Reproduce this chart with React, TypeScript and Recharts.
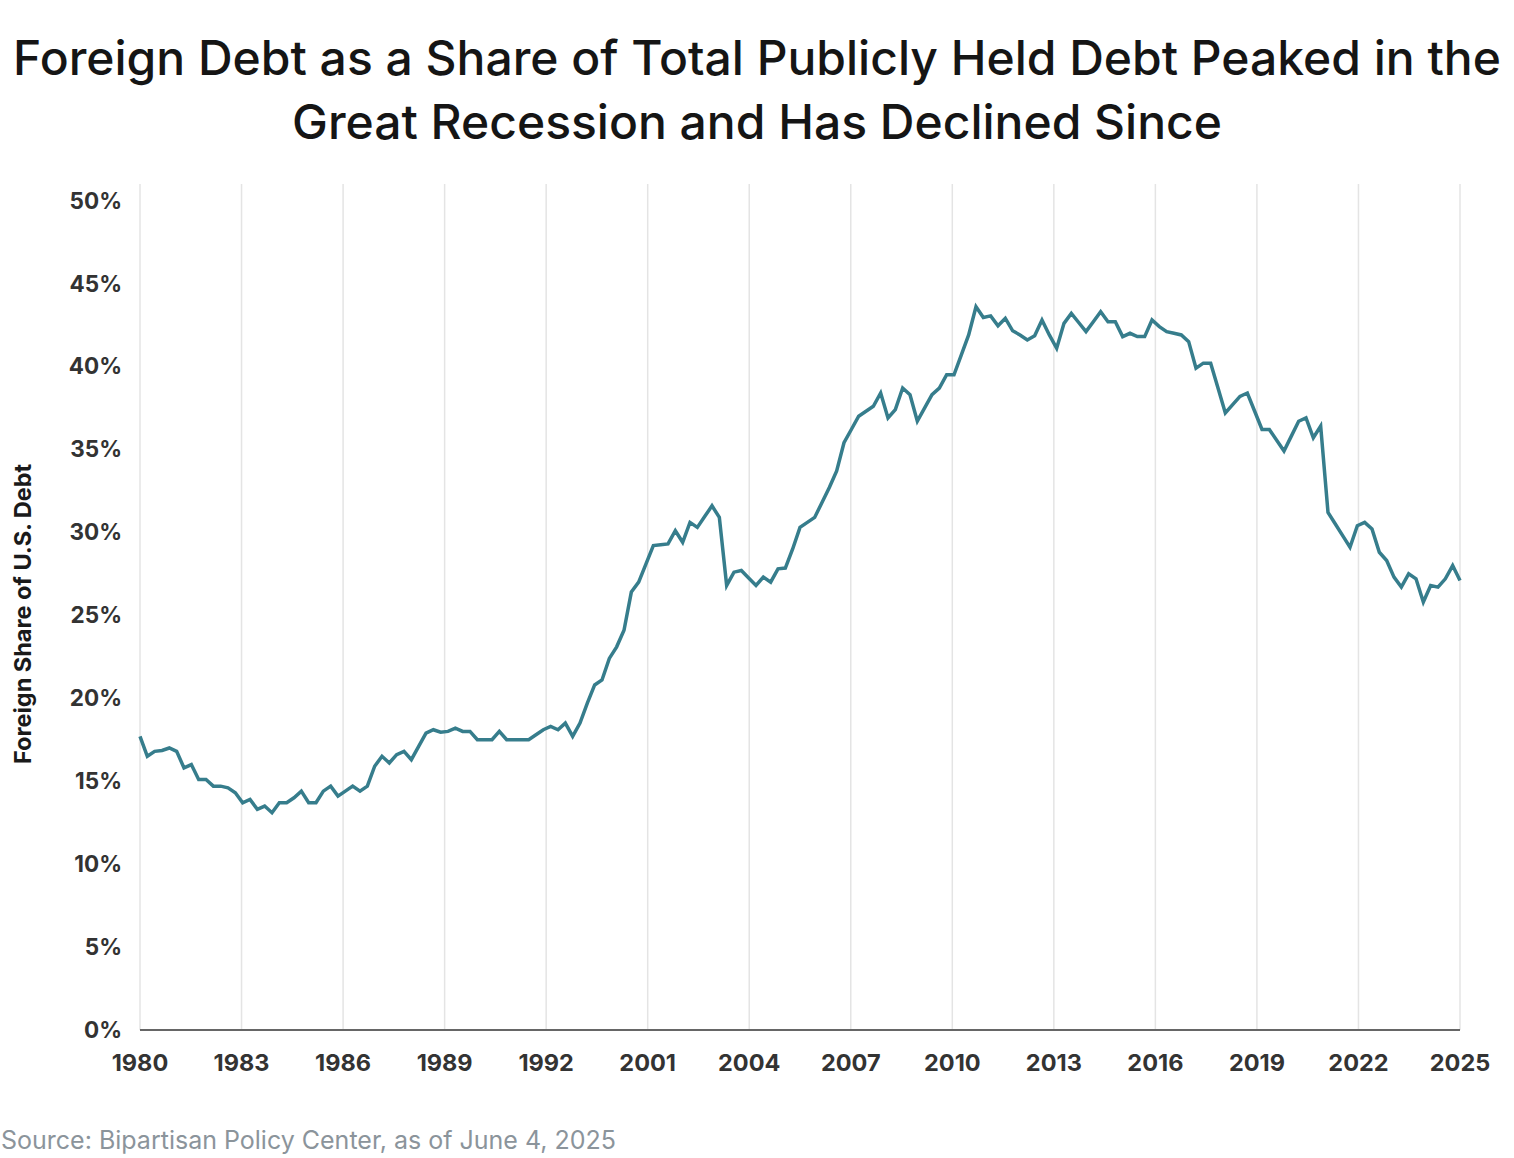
import React from 'react';
import { LineChart, Line, XAxis, YAxis, CartesianGrid } from 'recharts';

// quarterly foreign share of publicly held debt, 1980 Q1 .. 2025 Q1 (181 points)
const foreignShare = [
  17.7, 16.5, 16.8, 16.85, 17.0, 16.8, 15.8, 16.0, 15.1, 15.1,
  14.7, 14.7, 14.6, 14.3, 13.7, 13.9, 13.3, 13.5, 13.1, 13.7,
  13.7, 14.0, 14.4, 13.7, 13.7, 14.4, 14.7, 14.1, 14.4, 14.7,
  14.4, 14.7, 15.9, 16.5, 16.1, 16.6, 16.8, 16.3, 17.1, 17.9,
  18.1, 17.95, 18.0, 18.2, 18.0, 18.0, 17.5, 17.5, 17.5, 18.0,
  17.5, 17.5, 17.5, 17.5, 17.8, 18.1, 18.3, 18.1, 18.5, 17.7,
  18.5, 19.7, 20.8, 21.1, 22.4, 23.1, 24.1, 26.4, 27.0, 28.1,
  29.2, 29.25, 29.3, 30.1, 29.4, 30.6, 30.3, 30.95, 31.6, 30.9,
  26.8, 27.6, 27.7, 27.25, 26.8, 27.3, 27.0, 27.8, 27.85, 29.0,
  30.3, 30.6, 30.9, 31.8, 32.7, 33.7, 35.4, 36.2, 37.0, 37.3,
  37.6, 38.4, 36.9, 37.4, 38.7, 38.3, 36.7, 37.5, 38.3, 38.7,
  39.5, 39.5, 40.7, 41.9, 43.6, 42.95, 43.05, 42.45, 42.9, 42.15,
  41.9, 41.6, 41.85, 42.8, 41.9, 41.1, 42.6, 43.2, 42.65, 42.1,
  42.7, 43.3, 42.7, 42.7, 41.8, 42.0, 41.8, 41.8, 42.8, 42.4,
  42.1, 42.0, 41.9, 41.5, 39.9, 40.2, 40.2, 38.7, 37.2, 37.7,
  38.2, 38.4, 37.3, 36.2, 36.2, 35.55, 34.9, 35.8, 36.7, 36.9,
  35.7, 36.4, 31.2, 30.5, 29.8, 29.1, 30.4, 30.6, 30.2, 28.8,
  28.3, 27.3, 26.7, 27.5, 27.2, 25.8, 26.8, 26.7, 27.2, 28.0,
  27.1,
];

// axis labels as printed on the original (evenly spaced)
const xLabels = ['1980', '1983', '1986', '1989', '1992', '2001', '2004', '2007', '2010', '2013', '2016', '2019', '2022', '2025'];
const yTicks = [0, 5, 10, 15, 20, 25, 30, 35, 40, 45, 50];

const lastIndex = foreignShare.length - 1;
const xTicks = xLabels.map((_, k) => (k * lastIndex) / (xLabels.length - 1));

const data = foreignShare.map((v, i) => ({ i, share: v }));

const App: React.FC = () => {
  return (
    <div
      style={{
        position: 'absolute',
        left: 0,
        top: 0,
        width: 1514,
        height: 1158,
        background: '#ffffff',
        fontFamily: 'Inter, "Noto Sans", sans-serif',
        overflow: 'hidden',
      }}
    >
      <div
        style={{
          position: 'absolute',
          top: 26,
          left: 0,
          width: 1514,
          textAlign: 'center',
          fontSize: 48,
          lineHeight: '64px',
          fontWeight: 500,
          color: '#151515',
          whiteSpace: 'nowrap',
        }}
      >
        Foreign Debt as a Share of Total Publicly Held Debt Peaked in the
        <br />
        Great Recession and Has Declined Since
      </div>

      <div style={{ position: 'absolute', left: 0, top: 0 }}>
        <LineChart
          width={1514}
          height={1100}
          data={data}
          margin={{ top: 184, right: 54, left: 0, bottom: 20 }}
        >
          <CartesianGrid horizontal={false} vertical={true} stroke="#e4e4e4" strokeWidth={1.5} />
          <XAxis
            type="number"
            dataKey="i"
            domain={[0, lastIndex]}
            ticks={xTicks}
            interval={0}
            tickFormatter={(v: number) => xLabels[Math.round((v * (xLabels.length - 1)) / lastIndex)]}
            axisLine={{ stroke: '#666666', strokeWidth: 2 }}
            tickLine={false}
            tickMargin={18}
            height={50}
            tick={{ fill: '#333333', fontSize: 23.5, fontWeight: 700 }}
          />
          <YAxis
            type="number"
            domain={[0, 51]}
            ticks={yTicks}
            interval={0}
            allowDataOverflow
            tickFormatter={(v: number) => `${v}%`}
            axisLine={false}
            tickLine={false}
            tickMargin={12}
            width={140}
            tick={{ fill: '#333333', fontSize: 22.5, fontWeight: 700 }}
          />
          <Line
            type="linear"
            dataKey="share"
            stroke="#367d8c"
            strokeWidth={3.5}
            dot={false}
            isAnimationActive={false}
          />
        </LineChart>
      </div>

      <div
        style={{
          position: 'absolute',
          left: 22,
          top: 614,
          transform: 'translate(-50%, -50%) rotate(-90deg)',
          whiteSpace: 'nowrap',
          fontSize: 23.5,
          fontWeight: 700,
          color: '#1a1a1a',
        }}
      >
        Foreign Share of U.S. Debt
      </div>

      <div
        style={{
          position: 'absolute',
          left: 1,
          top: 1125,
          fontSize: 25,
          color: '#8b949b',
          whiteSpace: 'nowrap',
        }}
      >
        Source: Bipartisan Policy Center, as of June 4, 2025
      </div>
    </div>
  );
};

export default App;
